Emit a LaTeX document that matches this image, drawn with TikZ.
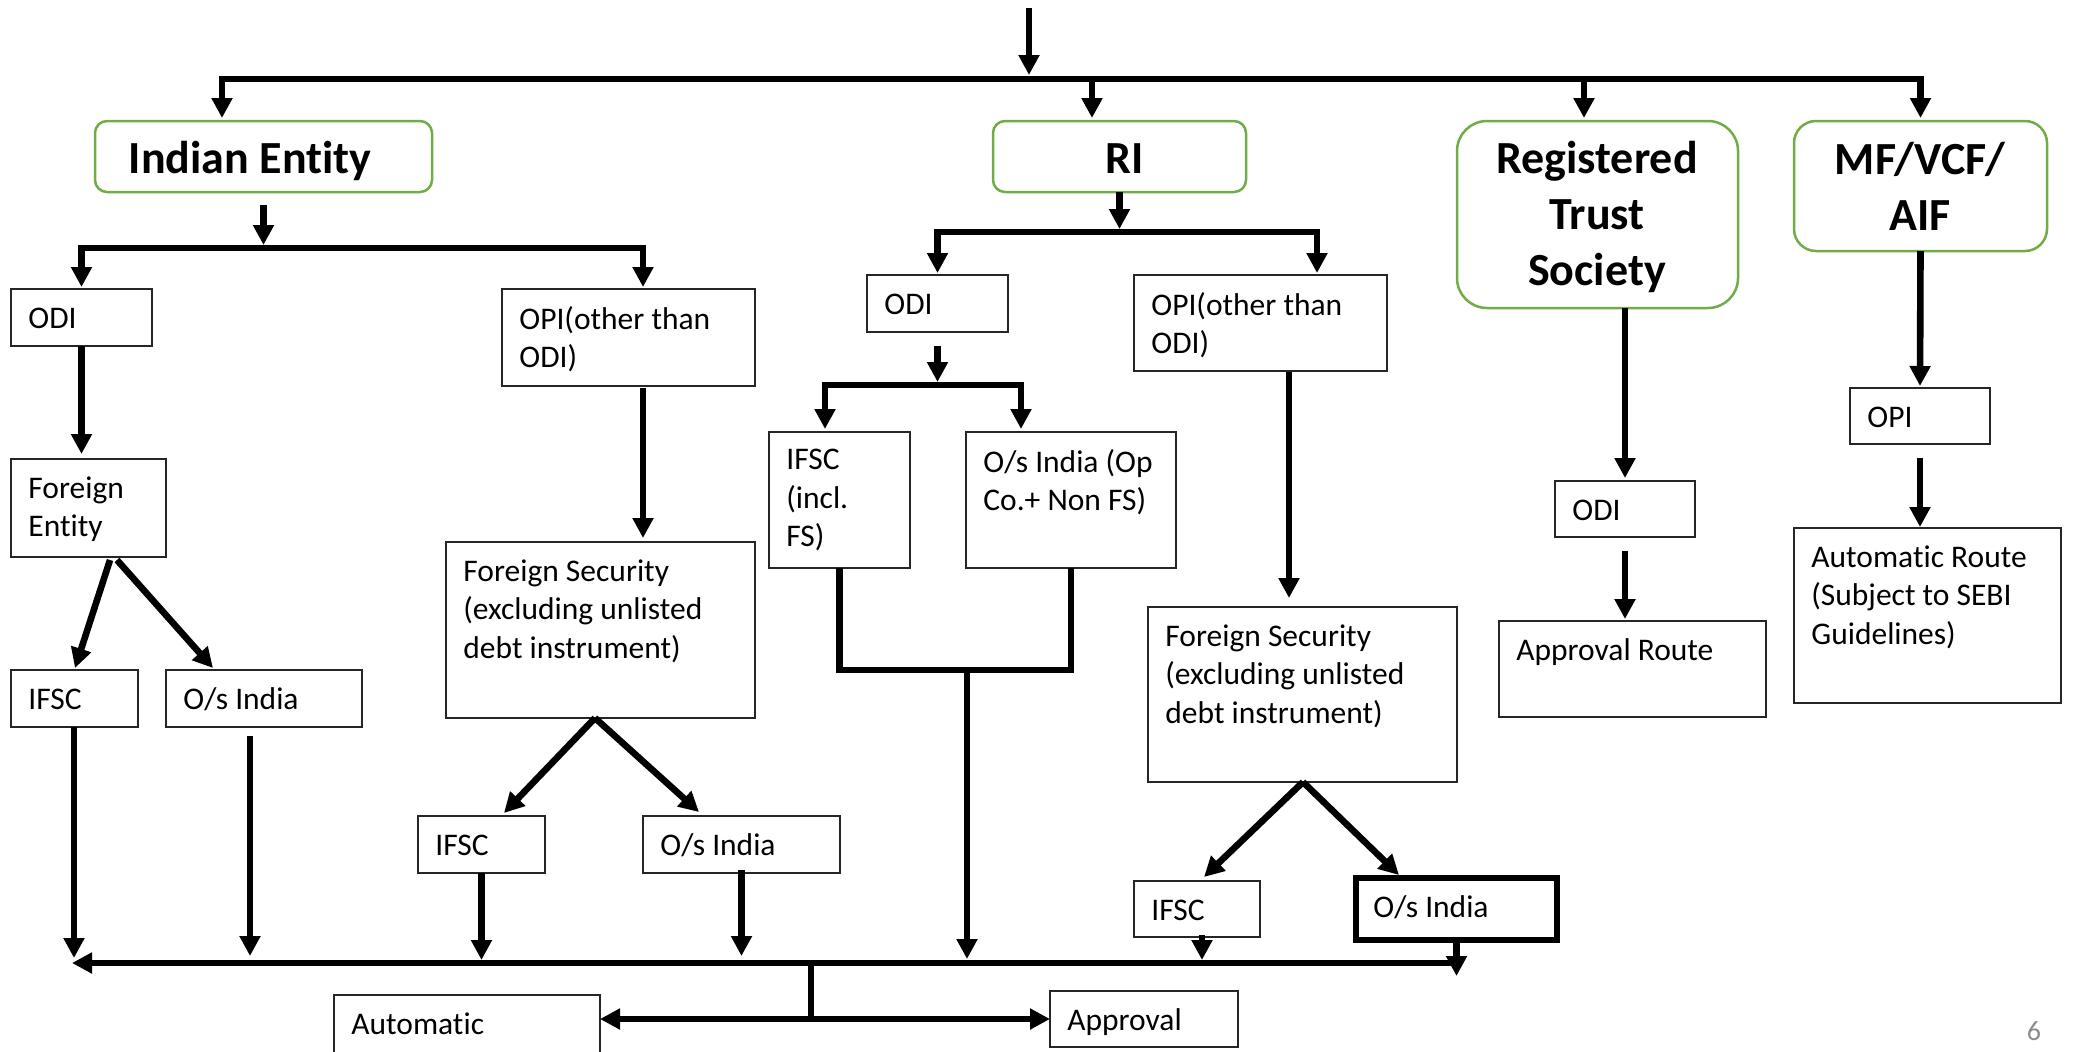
\documentclass[tikz,border=0pt]{standalone}
\usepackage{fontspec}
\setmainfont{Carlito}[Ligatures=NoCommon]
\usetikzlibrary{arrows.meta,calc}
\definecolor{grn}{HTML}{70AD47}
\definecolor{pgray}{HTML}{8C8C8C}
\tikzset{
  ln/.style={line width=3.3pt},
  arr/.style={ln, -{Triangle[width=10pt,length=10pt]}},
  bx/.style={draw=black!85, line width=0.75pt, inner sep=0pt, outer sep=0pt, anchor=north west},
  gb/.style={draw=grn, line width=1.25pt, inner sep=0pt, outer sep=0pt, anchor=north west},
  tx/.style={inner sep=0pt, anchor=north west, align=left,
    font=\fontsize{15.75}{19.25}\selectfont, execute at begin node=\strut},
  txone/.style={inner sep=0pt, anchor=north west,
    font=\fontsize{15.75}{19.25}\selectfont, text height=11pt, text depth=0pt},
  hd/.style={inner sep=0pt, anchor=north, align=center,
    font=\fontsize{23}{28}\selectfont\bfseries, execute at begin node=\strut},
}
% single-line box: #1 extra style, #2 name, #3 x1, #4 y1, #5 x2, #6 y2, #7 text
\newcommand\bxx[7][]{%
  \node[bx,#1,minimum width={(#5-#3)*0.5pt},minimum height={(#6-#4)*0.5pt}] (#2) at (#3,#4) {};
  \node[txone] (#2t) at ($(#2.north west)+(17,17)$) {#7};}
% multi-line box
\newcommand\bxm[7][]{%
  \node[bx,#1,minimum width={(#5-#3)*0.5pt},minimum height={(#6-#4)*0.5pt}] (#2) at (#3,#4) {};
  \node[tx] (#2t) at ($(#2.north west)+(17,17)$) {#7};}
% #1 name, #2 x1, #3 y1, #4 x2, #5 y2, #6 radius
\newcommand\gbox[6]{%
  \node[gb,rounded corners=#6,minimum width={(#4-#2)*0.5pt},minimum height={(#5-#3)*0.5pt}] (#1) at (#2,#3) {};}
\begin{document}
\begin{tikzpicture}[x=0.5pt,y=-0.5pt]
\useasboundingbox (0,0) rectangle (2073,1051);

% green header boxes
\gbox{IE}{95}{121}{432}{192}{6pt}
\gbox{RI}{993}{121}{1246}{192}{6pt}
\gbox{RTS}{1457}{121}{1738}{308}{15pt}
\gbox{MF}{1794}{121}{2047}{251}{11pt}
\node[hd] (tIE) at (250,134) {Indian Entity};
\node[hd] (tRI) at (1125,134) {RI};
\node[hd] (tRTS) at (1597,141) {Registered\\Trust\\Society};
\node[hd] (tMF) at (1920,142) {MF/VCF/\\AIF};

% black boxes
\bxx{odiA}{11}{289}{152}{346}{ODI}
\bxm{opiA}{502}{289}{755}{386}{OPI(other than\\ODI)}
\bxm{feA}{11}{459}{166}{557}{Foreign\\Entity}
\bxx{ifscA}{11}{670}{138}{727}{IFSC}
\bxx{osA}{166}{670}{362}{727}{O/s India}
\bxm{fsA}{446}{542}{755}{718}{Foreign Security\\(excluding unlisted\\debt instrument)}
\bxx{ifscB}{418}{816}{545}{873}{IFSC}
\bxx{osB}{643}{816}{840}{873}{O/s India}
\bxx{odiB}{867}{275}{1008}{332}{ODI}
\bxm{opiB}{1134}{275}{1387}{371}{OPI(other than\\ODI)}
\bxm{ifscC}{769}{432}{910}{568}{IFSC\\(incl.\\FS)}
\bxm{osC}{966}{432}{1176}{568}{O/s India (Op\\Co.+ Non FS)}
\bxm{fsB}{1148}{607}{1457}{782}{Foreign Security\\(excluding unlisted\\debt instrument)}
\bxx{ifscD}{1134}{881}{1260}{937}{IFSC}
\bxx[line width=3pt,draw=black]{osD}{1356}{878}{1557}{940}{O/s India}
\bxx{odiC}{1555}{481}{1695}{537}{ODI}
\bxx{appR}{1499}{621}{1766}{717}{Approval Route}
\bxx{opiC}{1850}{388}{1990}{444}{OPI}
\bxm{autoR}{1794}{528}{2061}{703}{Automatic Route\\(Subject to SEBI\\Guidelines)}
\bxx{autoB}{334}{995}{600}{1080}{Automatic}
\bxx{appB}{1050}{991}{1238}{1047}{Approval}

\node[inner sep=0pt, font=\fontsize{14}{16}\selectfont, text=pgray] (pnum) at (2034,1031) {6};

% top distribution
\coordinate (topS) at (1029,8);
\coordinate (jM) at (1029,79);
\draw[arr] (topS) -- ($(jM)+(0,-4)$);
\draw[arr] (jM) -| ($(IE.north west)+(127,-3)$);
\draw[arr] (jM) -| ($(MF.north)+(0,-3)$);
\draw[arr] ($(RI.north west)+(99,-42)$) -- ($(RI.north west)+(99,-3)$);
\draw[arr] ($(RTS.north west)+(127,-42)$) -- ($(RTS.north west)+(127,-3)$);

% Indian Entity branch
\coordinate (b2) at (263.5,248);
\draw[arr] ($(IE.south)+(0,13)$) -- ($(b2)+(0,-3)$);
\draw[arr] (b2) -| ($(odiA.north)+(0,-2)$);
\draw[arr] (b2) -| ($(opiA.north west)+(141,-2)$);
\draw[arr] (odiA.south) -- ($(odiA.south |- feA.north)+(0,-5)$);
\draw[arr] ($(feA.south west)+(99,3)$) -- ($(ifscA.north west)+(64,-2)$);
\draw[arr] ($(feA.south west)+(106,3)$) -- ($(osA.north west)+(47,-2)$);
\draw[arr] ($(opiA.south west)+(141,2)$) -- ($(fsA.north west)+(197,-4)$);
\draw[arr] ($(fsA.south west)+(149,0)$) -- ($(ifscB.north west)+(86,-3)$);
\draw[arr] ($(fsA.south west)+(149,0)$) -- ($(osB.north west)+(56,-4)$);

% RI branch
\coordinate (b3) at (1119.5,232);
\draw[arr] (RI.south) -- ($(b3)+(0,-3)$);
\draw[arr] (b3) -| ($(odiB.north)+(0,-2)$);
\draw[arr] (b3) -| ($(opiB.north west)+(183,-2)$);
\coordinate (b4) at (937.5,385);
\draw[arr] ($(odiB.south)+(0,14)$) -- ($(b4)+(0,-3)$);
\draw[arr] (b4) -| ($(ifscC.north west)+(56,-3)$);
\draw[arr] (b4) -| ($(osC.north west)+(55,-3)$);
\coordinate (jC) at (967,670);
\draw[ln] (ifscC.south) |- (jC) -| (osC.south);
\draw[arr] ($(opiB.south west)+(155,1)$) -- ($(fsB.north west)+(141,-9)$);
\draw[arr] ($(fsB.south west)+(155,0)$) -- ($(ifscD.north west)+(70,-4)$);
\draw[arr] ($(fsB.south west)+(155,0)$) -- ($(osD.north west)+(43,-3)$);

% Registered Trust and MF branches
\draw[arr] (RTS.south -| odiC.north) -- ($(odiC.north)+(0,-3)$);
\draw[arr] ($(odiC.south)+(0,14)$) -- ($(odiC.south |- appR.north)+(0,-2)$);
\draw[arr] (MF.south) -- ($(opiC.north)+(0,-2)$);
\draw[arr] ($(opiC.south)+(0,14)$) -- ($(opiC.south |- autoR.north)+(0,-1)$);

% bottom collector
\coordinate (bL) at (72,963);
\coordinate (bR) at (osD.south |- bL);
\draw[arr] (bR) -- (bL);
\draw[arr] (osD.south) -- ($(osD.south)+(0,36)$);
\draw[arr] ($(ifscA.south west)+(63,0)$) -- ($(ifscA.south west |- bL)+(63,-5)$);
\draw[arr] ($(osA.south west)+(84,9)$) -- ($(osA.south west |- bL)+(84,-7)$);
\draw[arr] (ifscB.south) -- ($(ifscB.south |- bL)+(0,-3)$);
\draw[arr] ($(osB.south)+(0,-3)$) -- ($(osB.south |- bL)+(0,-7)$);
\draw[arr] (jC) -- ($(jC |- bL)+(0,-4)$);
\draw[arr] ($(ifscD.south west)+(68,-2)$) -- ($(ifscD.south west |- bL)+(68,-3)$);

% outcome split
\coordinate (jB) at (811,963);
\coordinate (jL) at (811,1019);
\draw[ln] (jB) -- (jL);
\draw[arr] (jL) -- (autoB.east |- jL);
\draw[arr] (jL) -- (appB.west);
\end{tikzpicture}
\end{document}
